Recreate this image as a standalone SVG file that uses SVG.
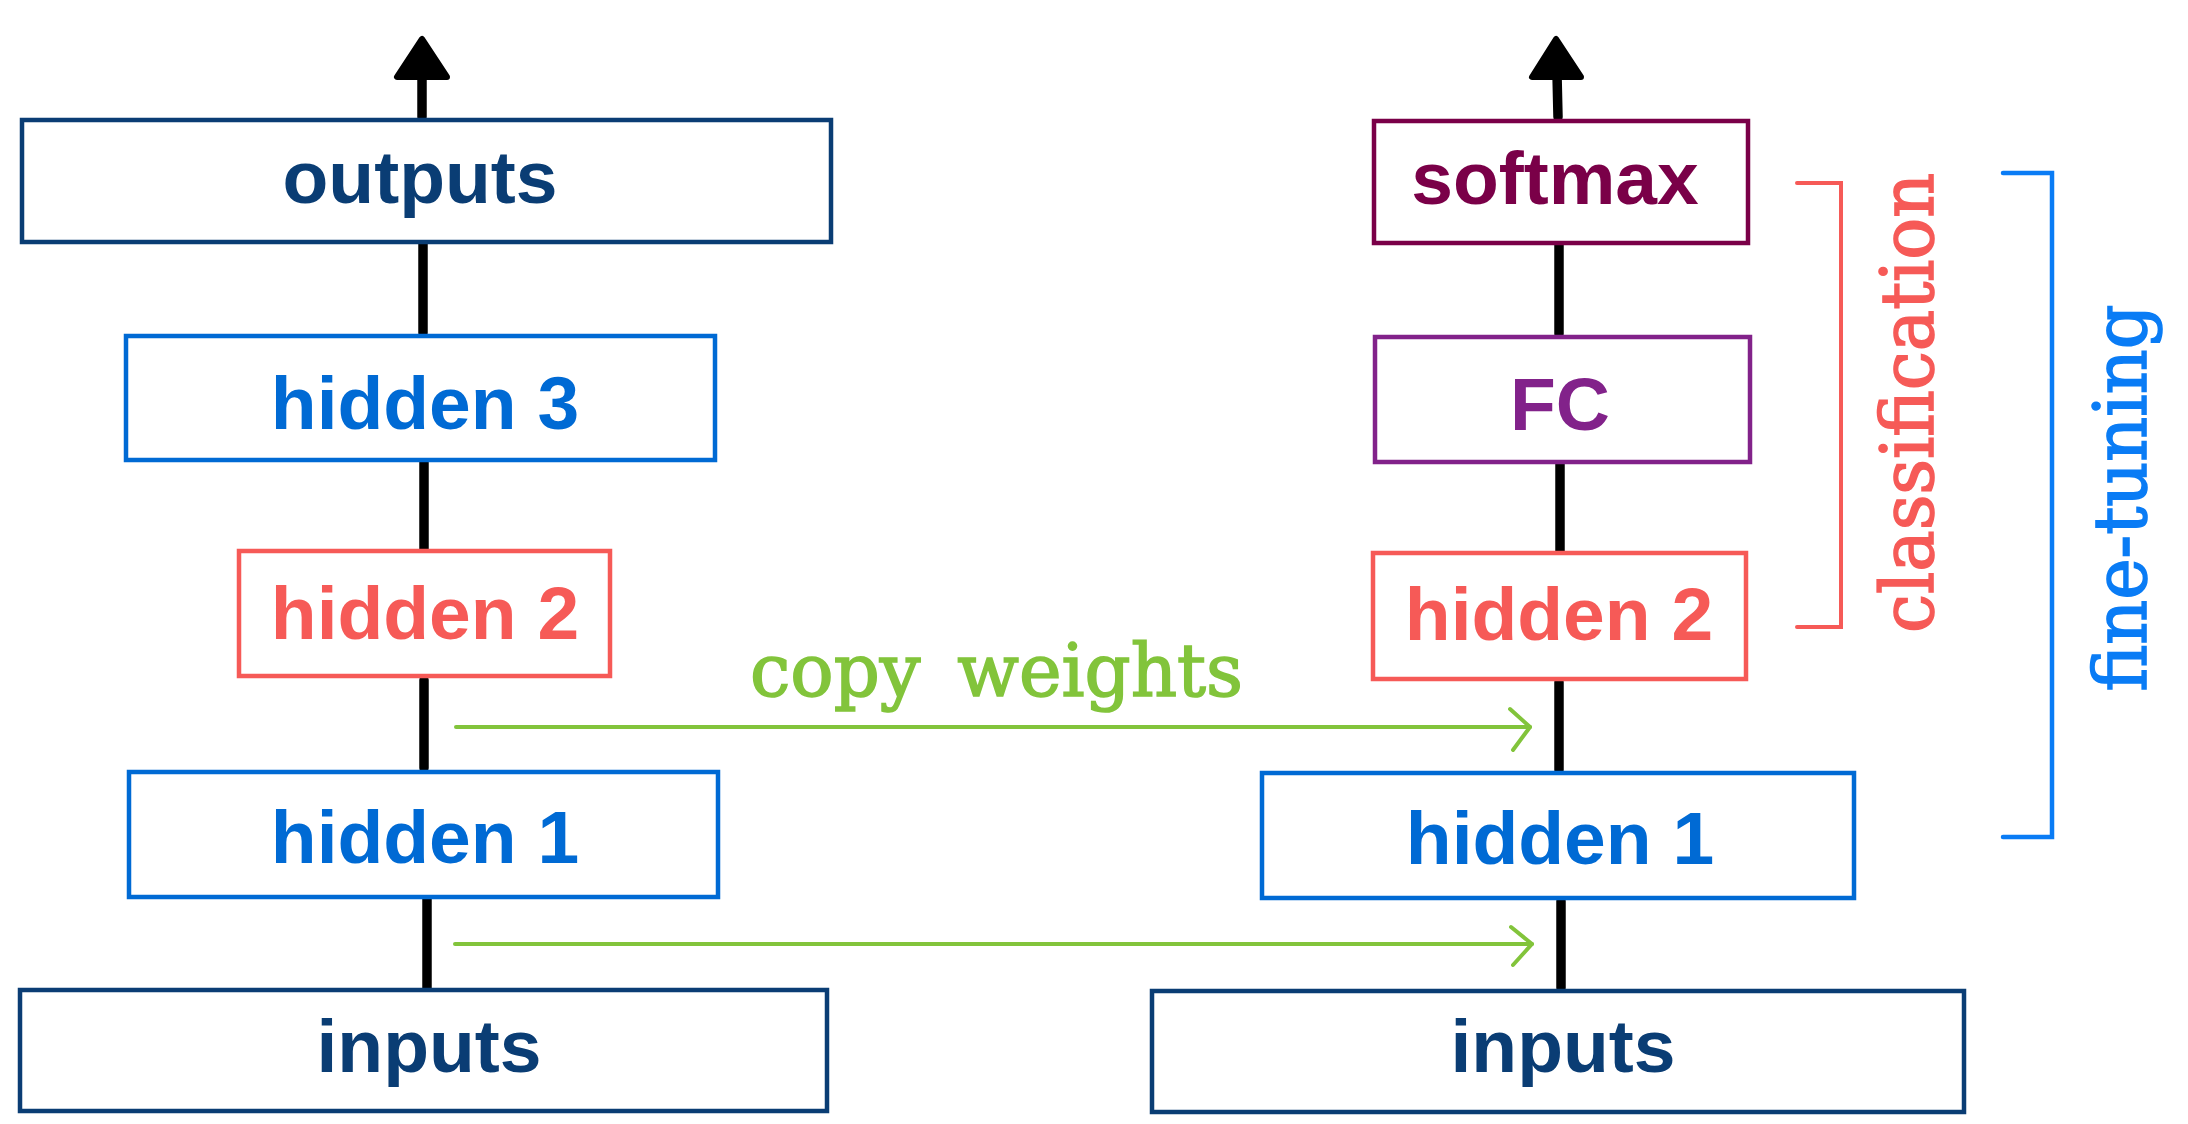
<svg xmlns="http://www.w3.org/2000/svg" width="2188" height="1124" viewBox="0 0 2188 1124">
<style>
.box{fill:#fff;stroke-width:4.5}
.lbl{font-family:"Liberation Sans",Arial,sans-serif;font-weight:bold;font-size:75px;text-anchor:middle}
.tw{font-family:"DejaVu Serif","Liberation Serif",serif;font-size:72px;stroke-width:1.6}
.edge{stroke:#000;stroke-width:9.5;stroke-linecap:round;fill:none}
.head{fill:#000;stroke:#000;stroke-width:6;stroke-linejoin:round}
.copy{stroke:#82C43B;stroke-width:4;stroke-linecap:round;stroke-linejoin:round;fill:none}
.navy{stroke:#0A3D74}.navyt{fill:#0A3D74}
.blue{stroke:#006AD4}.bluet{fill:#006AD4}
.red{stroke:#F65A57}.redt{fill:#F65A57}
</style>
<rect width="2188" height="1124" fill="#fff"/>
<g id="connectors">
<line class="edge" x1="422" y1="117" x2="422" y2="74"/>
<polygon class="head" points="422,39 397,77 447,77"/>
<line class="edge" x1="423" y1="244" x2="423" y2="333"/>
<line class="edge" x1="424" y1="462" x2="424" y2="549"/>
<line class="edge" x1="424" y1="680" x2="424" y2="768"/>
<line class="edge" x1="427" y1="899" x2="427" y2="988"/>
<line class="edge" x1="1558" y1="117" x2="1557" y2="74"/>
<polygon class="head" points="1556,39 1532,77 1581,77"/>
<line class="edge" x1="1559" y1="245" x2="1559" y2="334"/>
<line class="edge" x1="1560" y1="464" x2="1560" y2="551"/>
<line class="edge" x1="1559" y1="682" x2="1559" y2="770"/>
<line class="edge" x1="1561" y1="901" x2="1561" y2="988"/>
<line class="copy" x1="456" y1="727" x2="1530" y2="727"/>
<polyline class="copy" points="1510,709 1530,727 1513,750"/>
<line class="copy" x1="455" y1="944" x2="1532" y2="944"/>
<polyline class="copy" points="1511,927 1532,944 1513,965"/>
<text class="tw" x="750" y="696" fill="#82C43B" stroke="#82C43B" font-size="75" word-spacing="14">copy weights</text>
</g>
<g id="outputs"><rect class="box navy" x="22" y="120" width="809" height="122"/><text class="lbl navyt" x="420" y="203">outputs</text></g>
<g id="hidden3"><rect class="box blue" x="126" y="336" width="589" height="124"/><text class="lbl bluet" x="425" y="429">hidden 3</text></g>
<g id="hidden2-left"><rect class="box red" x="239" y="551" width="371" height="125"/><text class="lbl redt" x="425" y="639">hidden 2</text></g>
<g id="hidden1-left"><rect class="box blue" x="129" y="772" width="589" height="125"/><text class="lbl bluet" x="425" y="863">hidden 1</text></g>
<g id="inputs-left"><rect class="box navy" x="20" y="990" width="807" height="121"/><text class="lbl navyt" x="429" y="1072">inputs</text></g>
<g id="softmax"><rect class="box" stroke="#7A0048" x="1374" y="121" width="374" height="122"/><text class="lbl" fill="#7A0048" x="1555" y="204">softmax</text></g>
<g id="fc"><rect class="box" stroke="#82228A" x="1375" y="337" width="375" height="125"/><text class="lbl" fill="#82228A" x="1560" y="430">FC</text></g>
<g id="hidden2-right"><rect class="box red" x="1373" y="553" width="373" height="126"/><text class="lbl redt" x="1559" y="640">hidden 2</text></g>
<g id="hidden1-right"><rect class="box blue" x="1262" y="773" width="592" height="125"/><text class="lbl bluet" x="1560" y="864">hidden 1</text></g>
<g id="inputs-right"><rect class="box navy" x="1152" y="991" width="812" height="121"/><text class="lbl navyt" x="1563" y="1072">inputs</text></g>
<g id="classification">
<path d="M1797,183 H1841 V627 H1797" fill="none" stroke="#F65A57" stroke-width="4" stroke-linecap="round"/>
<text class="tw" fill="#F65A57" stroke="#F65A57" text-anchor="middle" textLength="460" lengthAdjust="spacingAndGlyphs" transform="translate(1933,403) rotate(-90)">classification</text>
</g>
<g id="fine-tuning">
<path d="M2003,173 H2052 V837 H2003" fill="none" stroke="#0A7CF5" stroke-width="4.5" stroke-linecap="round"/>
<text class="tw" fill="#0A7CF5" stroke="#0A7CF5" text-anchor="middle" textLength="387" lengthAdjust="spacingAndGlyphs" transform="translate(2146,498) rotate(-90)">fine-tuning</text>
</g>
</svg>
